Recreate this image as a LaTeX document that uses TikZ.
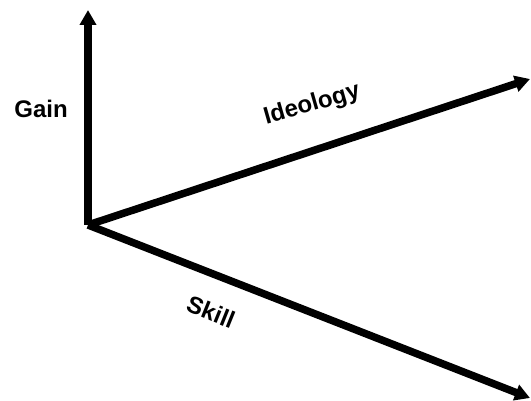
\documentclass[tikz,border=0pt]{standalone}
\usepackage{fontspec}
\setmainfont{Liberation Sans}
\usetikzlibrary{arrows.meta}

\begin{document}
\begin{tikzpicture}[
    x=1pt, y=-1pt,
    axis/.style={-{Triangle[length=15pt, width=16pt]}, line width=7.5pt},
    axislabel/.style={font=\fontsize{24}{28}\selectfont\bfseries, inner sep=0pt}
]
\useasboundingbox (0,0) rectangle (531,401);
\coordinate (origin) at (88,225);
\coordinate (gaintip) at (88,10);
\coordinate (ideotip) at (530,79);
\coordinate (skilltip) at (530,398);
\draw[axis] (origin) -- (gaintip);
\draw[axis] (origin) -- (ideotip);
\draw[axis] (origin) -- (skilltip);
\node[axislabel] (gain) at (41,109) {Gain};
\node[axislabel, rotate=16] (ideology) at (312,105) {Ideology};
\node[axislabel, rotate=-22] (skill) at (211,312) {Skill};
\end{tikzpicture}
\end{document}
